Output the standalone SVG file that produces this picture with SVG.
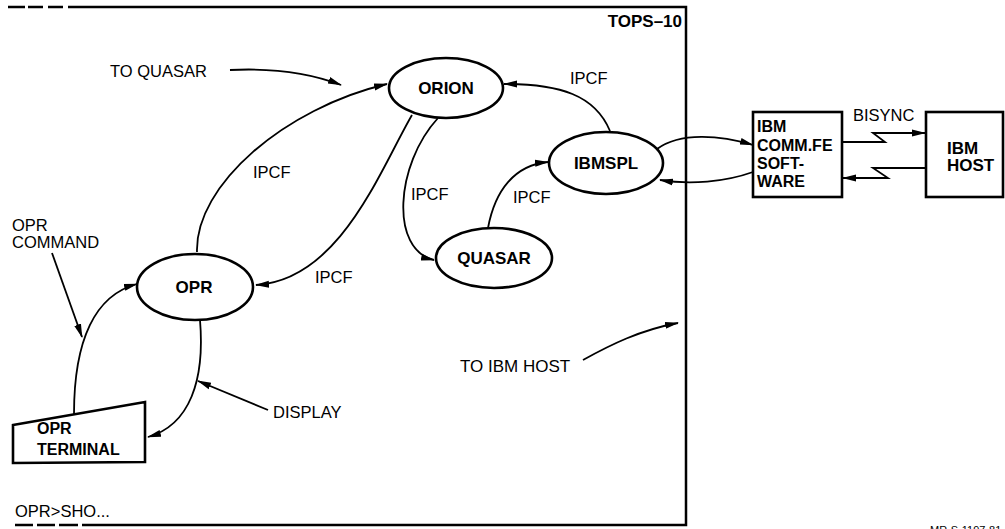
<svg xmlns="http://www.w3.org/2000/svg" width="1005" height="529" viewBox="0 0 1005 529">
<defs>
<marker id="ah" markerUnits="userSpaceOnUse" markerWidth="14" markerHeight="10" viewBox="0 0 14 10" refX="13" refY="5" orient="auto">
<path d="M0,1.5 L14,5 L0,8.5 Z" fill="#000"/>
</marker>
<style>
.frame{fill:none;stroke:#000;stroke-width:2.5}
.node{fill:#fff;stroke:#000;stroke-width:2.6}
.c{fill:none;stroke:#000;stroke-width:1.8}
.ca{fill:none;stroke:#000;stroke-width:1.8;marker-end:url(#ah)}
.b{font-family:"Liberation Sans",Arial,sans-serif;font-weight:bold;font-size:17px;fill:#000}
.bm{font-family:"Liberation Sans",Arial,sans-serif;font-weight:bold;font-size:16px;fill:#000}
.t{font-family:"Liberation Sans",Arial,sans-serif;font-size:16.5px;fill:#000}
.mid{text-anchor:middle}
</style>
</defs>
<rect width="1005" height="529" fill="#fff"/>
<g id="frame">
<path class="frame" d="M68,7 L686,7 L686,525 L82,525"/>
<path class="frame" d="M8,7 L25,7 M28,7 L43,7 M48,7 L63,7"/>
<path class="frame" d="M15,525 L33,525 M37,525 L55,525 M59,525 L78,525"/>
<text class="b" x="682" y="27" text-anchor="end">TOPS–10</text>
<text class="t" x="15" y="517">OPR&gt;SHO...</text>
</g>
<g id="connectors">
<path class="ca" d="M197,252 C195,185 285,108 387,84"/>
<path class="ca" d="M412,115 C380,170 340,280 256,285"/>
<path class="ca" d="M438,118 C395,165 390,250 434,260"/>
<path class="ca" d="M488,228 C495,190 515,165 548,162"/>
<path class="ca" d="M610,131 C595,95 560,84 504,84"/>
<path class="ca" d="M657,149 C680,132 720,135 753,145"/>
<path class="ca" d="M753,172 C725,182 690,185 660,180"/>
<path class="ca" d="M842,142 L885,142 L873,133 L925,133"/>
<path class="ca" d="M926,168 L873,168 L888,178 L843,178"/>
<path class="ca" d="M74,414 C74,340 95,295 137,284"/>
<path class="ca" d="M200,320 C205,380 190,425 148,437"/>
<path class="ca" d="M230,70 C270,68 310,73 341,85"/>
<path class="ca" d="M583,360 C610,345 640,330 678,323"/>
<path class="ca" d="M268,410 L198,381"/>
<path class="ca" d="M52,253 L82,337"/>
<text class="t" x="570" y="84">IPCF</text>
<text class="t" x="253" y="178">IPCF</text>
<text class="t" x="315" y="283">IPCF</text>
<text class="t" x="411" y="200">IPCF</text>
<text class="t" x="513" y="203">IPCF</text>
<text class="t" x="853" y="121">BISYNC</text>
<text class="t" x="110" y="77">TO QUASAR</text>
<text class="t" x="460" y="372" style="font-size:17px">TO IBM HOST</text>
<text class="t" x="273" y="418">DISPLAY</text>
<text class="t" x="12" y="231">OPR</text>
<text class="t" x="12" y="248">COMMAND</text>
</g>
<g id="orion">
<ellipse class="node" cx="446" cy="88" rx="57" ry="30"/>
<text class="b mid" x="446" y="94">ORION</text>
</g>
<g id="ibmspl">
<ellipse class="node" cx="606" cy="163" rx="57" ry="31"/>
<text class="b mid" x="606" y="169">IBMSPL</text>
</g>
<g id="quasar">
<ellipse class="node" cx="494" cy="258" rx="58" ry="30"/>
<text class="b mid" x="494" y="264">QUASAR</text>
</g>
<g id="opr">
<ellipse class="node" cx="195" cy="287" rx="58" ry="33"/>
<text class="b mid" x="194" y="293">OPR</text>
</g>
<g id="opr-terminal">
<path class="node" d="M13,425 L145,402 L145,462 L13,463 Z"/>
<text class="bm" x="37" y="434">OPR</text>
<text class="bm" x="37" y="455">TERMINAL</text>
</g>
<g id="comm-fe">
<rect class="node" x="753" y="112" width="89" height="85"/>
<text class="bm" x="757" y="132">IBM</text>
<text class="bm" x="757" y="151">COMM.FE</text>
<text class="bm" x="757" y="169">SOFT-</text>
<text class="bm" x="757" y="187">WARE</text>
</g>
<g id="ibm-host">
<rect class="node" x="926" y="112" width="77" height="85"/>
<text class="b" x="947" y="154">IBM</text>
<text class="b" x="947" y="171">HOST</text>
</g>
<text class="t" x="930" y="534" style="font-size:11px">MR-S-1197-81</text>
</svg>
